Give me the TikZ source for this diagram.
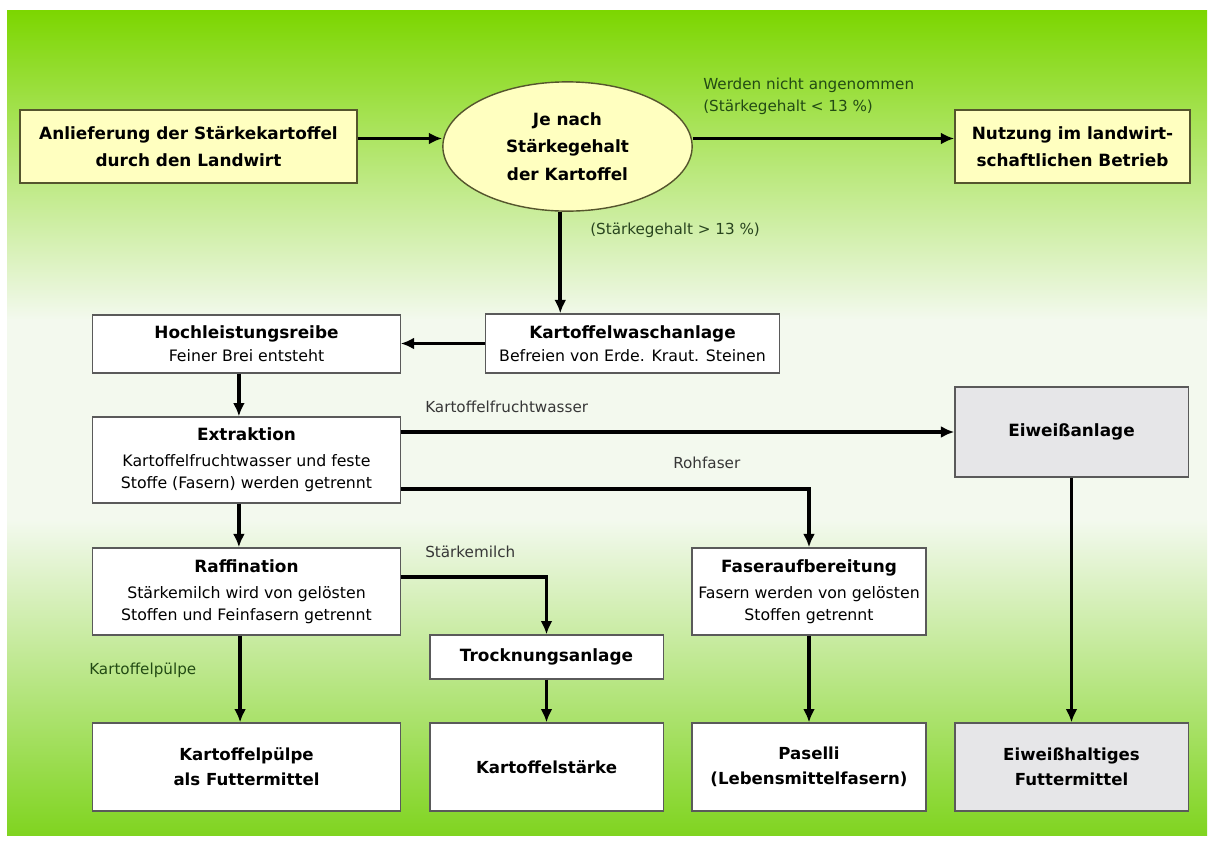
\documentclass[tikz,border=0pt]{standalone}
\usepackage{fontspec}
\setmainfont{DejaVu Sans}
\usetikzlibrary{shapes.geometric,arrows.meta,positioning}
\definecolor{grtop}{RGB}{124,214,0}
\definecolor{grbot}{RGB}{128,212,32}
\definecolor{grpale}{RGB}{243,249,238}
\definecolor{yelfill}{RGB}{255,255,192}
\definecolor{grayfill}{RGB}{230,230,232}
\definecolor{boxline}{RGB}{90,90,90}
\definecolor{oliveline}{RGB}{85,85,45}
\definecolor{labgreen}{RGB}{35,75,20}
\definecolor{labgray}{RGB}{55,55,55}
\newcommand\steptitle[1]{{\bfseries\fontsize{12}{16}\selectfont #1}}

\begin{document}
\begin{tikzpicture}[
  x=0.025cm, y=-0.025cm,
  stepbox/.style={draw=boxline, fill=white, line width=0.9pt, align=center, inner sep=2pt, font=\fontsize{11.2}{15.6}\selectfont},
  topbox/.style={draw=oliveline, fill=yelfill, line width=1pt, align=center, font=\bfseries\fontsize{12}{19}\selectfont, minimum height=1.83cm},
  endbox/.style={stepbox, font=\bfseries\fontsize{11.8}{18}\selectfont, minimum height=2.2cm},
  flowlabel/.style={anchor=west, inner sep=0pt, align=left, text=labgray, font=\fontsize{10.8}{16}\selectfont},
  flow/.style={line width=2.6pt, -{Latex[length=9.5pt,width=8.5pt]}},
]
% background
\useasboundingbox (0,0) rectangle (1213,843);
\fill[white] (0,0) rectangle (1213,843);
\shade[top color=grtop, bottom color=grpale] (7,10) rectangle (1207,320);
\fill[grpale] (7,319) rectangle (1207,521);
\shade[top color=grpale, bottom color=grbot] (7,520) rectangle (1207,835);

% top row
\node[topbox, minimum width=8.43cm] (anl) at (188.5,146.5) {Anlieferung der Stärkekartoffel\\durch den Landwirt};
\node[draw=oliveline, fill=yelfill, line width=1pt, ellipse, minimum width=6.23cm, minimum height=3.23cm, inner sep=0pt, align=center, font=\bfseries\fontsize{12}{19.5}\selectfont] (ell) at (567.5,146.5) {Je nach\\Stärkegehalt\\der Kartoffel};
\node[topbox, minimum width=5.88cm] (nutz) at (1072.5,146.5) {Nutzung im landwirt-\\schaftlichen Betrieb};

% process steps
\node[stepbox, minimum width=7.33cm, minimum height=1.48cm] (wasch) at (632.5,343.5) {\steptitle{Kartoffelwaschanlage}\\[1pt]Befreien von Erde. Kraut. Steinen};
\node[stepbox, minimum width=7.68cm, minimum height=1.45cm] (hoch) at (246.5,344) {\steptitle{Hochleistungsreibe}\\[1pt]Feiner Brei entsteht};
\node[stepbox, minimum width=7.68cm, minimum height=2.15cm] (extr) at (246.5,460) {\steptitle{Extraktion}\\[3pt]Kartoffelfruchtwasser und feste\\Stoffe (Fasern) werden getrennt};
\node[stepbox, fill=grayfill, minimum width=5.83cm, minimum height=2.25cm, font=\bfseries\fontsize{12}{16}\selectfont] (eiw) at (1071.5,432) {Eiweißanlage};
\node[stepbox, minimum width=7.68cm, minimum height=2.18cm] (raff) at (246.5,591.5) {\steptitle{Raffination}\\[3pt]Stärkemilch wird von gelösten\\Stoffen und Feinfasern getrennt};
\node[stepbox, minimum width=5.85cm, minimum height=2.18cm] (fasr) at (809,591.5) {\steptitle{Faseraufbereitung}\\[3pt]Fasern werden von gelösten\\Stoffen getrennt};
\node[stepbox, minimum width=5.83cm, minimum height=1.1cm, font=\bfseries\fontsize{12}{16}\selectfont] (trock) at (546.5,657) {Trocknungsanlage};

% products
\node[endbox, minimum width=7.68cm] (pulp) at (246.5,767) {Kartoffelpülpe\\als Futtermittel};
\node[endbox, minimum width=5.83cm] (staerke) at (546.5,767) {Kartoffelstärke};
\node[endbox, minimum width=5.85cm] (pas) at (809,767) {Paselli\\(Lebensmittelfasern)};
\node[endbox, fill=grayfill, minimum width=5.83cm] (eiwf) at (1071.5,767) {Eiweißhaltiges\\Futtermittel};

% labels
\node[flowlabel, text=labgreen] (nicht) at (703,96.5) {Werden nicht angenommen\\(Stärkegehalt < 13 \%)};
\node[flowlabel, text=labgreen!70!labgray] (ueber) at (590,230) {(Stärkegehalt > 13 \%)};
\node[flowlabel] (fruchtw) at (425,407) {Kartoffelfruchtwasser};
\node[flowlabel] (rohf) at (673,463) {Rohfaser};
\node[flowlabel] (milch) at (425,552) {Stärkemilch};
\node[flowlabel, text=labgreen] (pulpl) at (89,670) {Kartoffelpülpe};

% connectors
\draw[flow] ([yshift=0.2cm]anl.east) -- ([yshift=0.2cm]ell.west);
\draw[flow] ([yshift=0.2cm]ell.east) -- ([yshift=0.2cm]nutz.west);
\draw[flow] ([xshift=-0.18cm]ell.south) -- ([xshift=-0.18cm]ell.south |- wasch.north);
\draw[flow] (wasch.west) -- (hoch.east |- wasch.west);
\draw[flow] ([xshift=-0.19cm]hoch.south) -- ([xshift=-0.19cm]extr.north);
\draw[flow] (extr.east |- eiw.west) -- (eiw.west);
\draw[flow] ([yshift=-0.72cm]extr.east) -| (fasr.north);
\draw[flow] ([xshift=-0.19cm]extr.south) -- ([xshift=-0.19cm]raff.north);
\draw[flow] ([yshift=0.36cm]raff.east) -| (trock.north);
\draw[flow] ([xshift=-0.16cm]raff.south) -- ([xshift=-0.16cm]pulp.north);
\draw[flow] (trock.south) -- (staerke.north);
\draw[flow] (fasr.south) -- (pas.north);
\draw[flow] (eiw.south) -- (eiwf.north);
\end{tikzpicture}
\end{document}
